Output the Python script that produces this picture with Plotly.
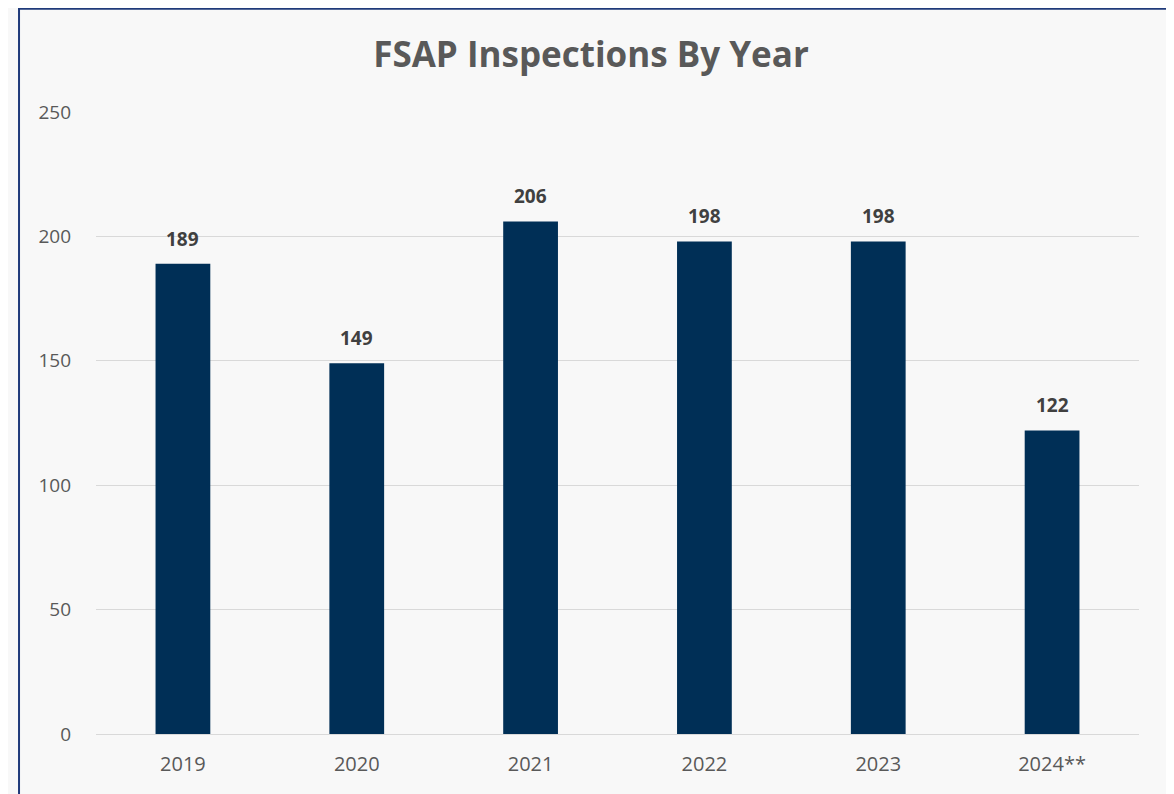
import plotly.graph_objects as go

years = ["2019", "2020", "2021", "2022", "2023", "2024**"]
inspections = [189, 149, 206, 198, 198, 122]
y_ticks = [0, 50, 100, 150, 200, 250]

fig = go.Figure()
fig.add_trace(go.Bar(
    x=years, y=inspections,
    marker=dict(color="#002F56", line=dict(width=0)),
    width=0.315,
    hoverinfo="x+y",
))
for i, v in enumerate(inspections):
    fig.add_annotation(
        x=i, y=v, text=f"<b>{v}</b>", showarrow=False,
        yanchor="bottom", yshift=10,
        font=dict(family="Open Sans", size=19, color="#404040"),
    )

fig.add_shape(type="rect", xref="paper", yref="paper",
              x0=-0.0738, x1=1.0288, y0=-0.12, y1=1.166,
              line=dict(color="#1F3A7A", width=2), fillcolor="rgba(0,0,0,0)",
              layer="below")

fig.update_layout(
    width=1166, height=786,
    margin=dict(l=88, r=35, t=104, b=60),
    paper_bgcolor="#f8f8f8",
    plot_bgcolor="rgba(0,0,0,0)",
    title=dict(text="<b>FSAP Inspections By Year</b>", x=0.5, xanchor="center",
               y=0.940, yanchor="middle",
               font=dict(family="Open Sans", size=35, color="#595959")),
    showlegend=False,
    xaxis=dict(type="category", range=[-0.5, len(years) - 0.5], showgrid=False,
               showline=True, linecolor="#d9d9d9",
               linewidth=1, ticks="",
               tickfont=dict(family="Open Sans", size=20, color="#595959"),
               ticklabelstandoff=12),
    yaxis=dict(range=[0, 250], tickvals=y_ticks, showgrid=True, gridcolor="#d9d9d9",
               gridwidth=1, zeroline=False, showline=False, ticks="",
               tickfont=dict(family="Open Sans", size=19, color="#595959"),
               ticklabelstandoff=24),
)

fig.write_html("out.html")
